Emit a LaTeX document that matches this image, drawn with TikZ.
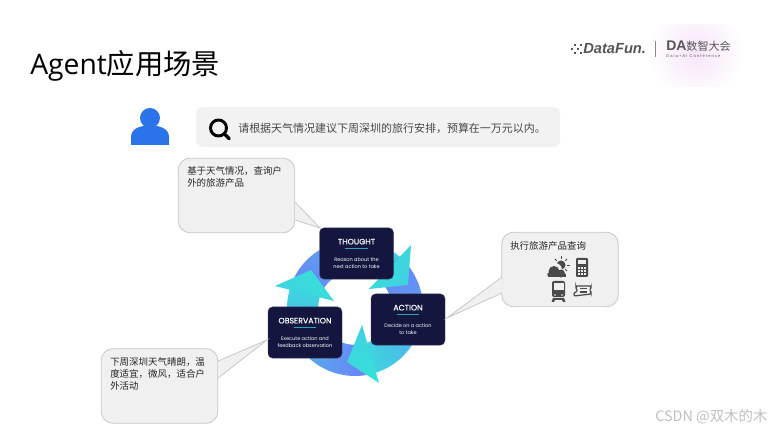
\documentclass[tikz,border=0pt]{standalone}
\usepackage{fontspec}
\usepackage{xcolor}
\setmainfont{Noto Sans CJK SC}
\newfontfamily\latinfont{Open Sans}
\newfontfamily\cardfont{Poppins}
\newfontfamily\cardtitlefont[FakeBold=0.4]{Poppins}
\newfontfamily\logofont{Liberation Sans}
\usetikzlibrary{calc}

\definecolor{cardnavy}{HTML}{15163F}
\definecolor{cardrule}{HTML}{22A8B4}
\definecolor{ringblue}{HTML}{6F7CFB}
\definecolor{ringteal}{HTML}{3FD2E0}
\definecolor{headteal}{HTML}{36E0D8}
\definecolor{bubblefill}{HTML}{F0F0F0}
\definecolor{bubbleline}{HTML}{C9C9C9}
\definecolor{iconblue}{HTML}{2A73E8}
\definecolor{icongray}{HTML}{4A4A4A}
\definecolor{logogray}{HTML}{555555}
\definecolor{blobpink}{HTML}{F6E4F8}

\tikzset{
  card/.style={fill=cardnavy, draw=cardnavy!80!white, line width=0.3pt, rounded corners=3.5pt, minimum width=55.5pt, minimum height=38.5pt, inner sep=0pt, text=white, align=center, font=\cardfont\fontsize{3.75}{5.25}\selectfont},
  bubble/.style={draw=bubbleline, fill=bubblefill, line width=0.6pt, rounded corners=9pt, minimum width=87.5pt, minimum height=56pt, inner sep=0pt},
  bubbletail/.style={fill=bubblefill},
  bubbleedge/.style={draw=bubbleline, line width=0.6pt},
  bubbletext/.style={anchor=north west, inner sep=0pt, align=left, text=black!85, font=\fontsize{7.1}{8.8}\selectfont},
  headshade/.style={left color=headteal, right color=ringteal},
  icon/.style={fill=icongray, draw=none},
}

\newcommand{\cardtext}[2]{{\cardtitlefont\fontsize{5.9}{6}\selectfont #1}\\[-2.5pt]{\color{cardrule}\rule{17pt}{0.4pt}}\\[4.5pt]#2}

\begin{document}
\begin{tikzpicture}[x=0.75pt, y=0.75pt]
        \useasboundingbox (0,0) rectangle (774,432);
        \fill[white] (0,0) rectangle (774,432);

        % logo corner
        \begin{scope}
            \clip (650,345) rectangle (747,407);
            \shade[inner color=blobpink, outer color=white] (696,380) circle (48);
        \end{scope}
        \node[anchor=west, inner sep=0pt, text=black, font=\latinfont\fontsize{21.2}{24}\selectfont] (title) at (30,366) {Agent\fontspec{Noto Sans CJK SC}应用场景};
        \node[anchor=west, inner sep=0pt, text=logogray, font=\logofont\bfseries\itshape\fontsize{11}{12}\selectfont] (datafun) at (583,383) {DataFun.};
        \foreach \dx/\dy in {571/382, 574/386, 574/378, 577/382, 580/386, 580/378}
            \fill[logogray] (\dx,\dy) rectangle ++(2,2);
        \draw[logogray!70, line width=0.4pt] (655.5,375) -- (655.5,391);
        \node[anchor=west, inner sep=0pt, text=logogray, font=\fontsize{8.3}{10}\selectfont] (dalogo) at (666,386) {{\logofont\bfseries\fontsize{10.5}{10}\selectfont DA}数智大会};
        \node[anchor=west, inner sep=0pt, text=logogray, font=\logofont\fontsize{3}{4}\selectfont] (dasub) at (666,376) {D a t a + A I\ \ C o n f e r e n c e};

        % user and query
        \fill[iconblue] (150,314) circle (10);
        \fill[iconblue] (131,287) -- (131,295) .. controls (131,304) and (141,306.5) .. (150,306.5) .. controls (159,306.5) and (169,304) .. (169,295) -- (169,287) -- cycle;
        \node[fill=black!5, rounded corners=5pt, minimum width=273pt, minimum height=30pt, inner sep=0pt] (query) at (378,305) {};
        \node[draw=black, line width=2.2pt, circle, minimum size=12pt, inner sep=0pt] (lens) at (218.5,304) {};
        \draw[black, line width=2.4pt, line cap=round] (lens.-45) -- ++(4,-4);
        \node[anchor=west, inner sep=0pt, text=black!72, font=\fontsize{8.24}{10}\selectfont] (querytext) at (238,304) {请根据天气情况建议下周深圳的旅行安排，预算在一万元以内。};

        % ring
        \foreach \startang/\endang in {164/50, 50/-72, 288/164} {
            \foreach \i in {0,...,29} {
                \pgfmathsetmacro{\pct}{100*(\i+1)/30}
                \pgfmathsetmacro{\angA}{\startang+(\endang-\startang)*\i/30}
                \pgfmathsetmacro{\angB}{\startang+(\endang-\startang)*(\i+1.3)/30}
                \draw[ringteal!\pct!ringblue, line width=23.25pt] ($(355,124)+(\angA:52.5)$) arc[start angle=\angA, end angle=\angB, radius=52.5];
            }
        }
        \shade[headshade, shading angle=60] (411,187) -- (408,147) -- (369,143) -- cycle;
        \shade[headshade, shading angle=210] (362,107) -- (347,70) -- (379,49) -- cycle;
        \shade[headshade, shading angle=-45] (275,146) -- (311,162) -- (334,131) -- cycle;

        % cards
        \node[card] (thought) at (356.5,178.5) {\cardtext{THOUGHT}{Reason about the\\next action to take}};
        \node[card] (action) at (408,112.5) {\cardtext{ACTION}{Decide on a action\\to take}};
        \node[card] (observation) at (305,99.5) {\cardtext{OBSERVATION}{Execute action and\\feedback observation}};

        % bubbles
        \node[bubble] (thoughtbubble) at (236.5,236.5) {};
        \coordinate (thoughttip) at (320,204);
        \fill[bubbletail] (295,230) -- (thoughttip) -- (295,212) -- cycle;
        \draw[bubbleedge] (295,230) -- (thoughttip) -- (295,212);
        \node[bubbletext] (thoughtlabel) at (187,265.5) {基于天气情况，查询户\\外的旅游产品};

        \node[bubble] (actionbubble) at (560,162.5) {};
        \coordinate (actiontip) at (447,114);
        \fill[bubbletail] (502,155) -- (actiontip) -- (502,139) -- cycle;
        \draw[bubbleedge] (502,155) -- (actiontip) -- (502,139);
        \node[bubbletext] (actionlabel) at (510,191) {执行旅游产品查询};

        \node[bubble] (observationbubble) at (159.5,46) {};
        \coordinate (observationtip) at (267,92);
        \fill[bubbletail] (218,71) -- (observationtip) -- (218,54) -- cycle;
        \draw[bubbleedge] (218,71) -- (observationtip) -- (218,54);
        \node[bubbletext] (observationlabel) at (110,74.5) {下周深圳天气晴朗，温\\度适宜，微风，适合户\\外活动};

        % small icons
        \fill[icon] (561,167) circle (4.5);
        \foreach \ang in {0,45,90,135,-45} \draw[icongray, line width=0.7pt] ($(561,167)+(\ang:6)$) -- ($(561,167)+(\ang:8.5)$);
        \fill[bubblefill] (555,162) circle (7);
        \fill[icon] (548,155) rectangle (566,158);
        \fill[icon] (554,160.5) circle (5.5);
        \fill[icon] (561,158.5) circle (4);
        \fill[icon] (549.5,157.5) circle (2.2);
        \fill[icon, rounded corners=0.8pt] (576,155) rectangle (588,174);
        \fill[bubblefill] (578,168) rectangle (586,172);
        \foreach \dx in {578,580.8,583.6} \foreach \dy in {157,160,163} \fill[bubblefill] (\dx,\dy) rectangle ++(2,1.7);
        \fill[icon, rounded corners=1.5pt] (552,135) rectangle (565,151);
        \fill[bubblefill] (553.5,142) rectangle (563.5,149);
        \fill[bubblefill] (555,137) circle (0.9);
        \fill[bubblefill] (562,137) circle (0.9);
        \fill[icon] (553,134) -- (564,134) -- (565.5,130) -- (563,130) -- (562,132) -- (555,132) -- (554,130) -- (551.5,130) -- cycle;
        \draw[icongray, line width=0.9pt, rounded corners=0.8pt] (574,136) -- (591,138) -- (591,140) -- (589.5,142) -- (591,144) -- (591,146) -- (576,146) -- (576,144) -- (577.5,141) -- (574,139) -- cycle;
        \fill[icon] (580,142.5) rectangle (587,144);
        \fill[icon] (580,139) rectangle (587,140.5);

        % watermark
        \node[anchor=west, inner sep=0pt, text=black!25, font=\fontsize{10.8}{11}\selectfont] (watermark) at (655,15) {CSDN @双木的木};
    \end{tikzpicture}
\end{document}
